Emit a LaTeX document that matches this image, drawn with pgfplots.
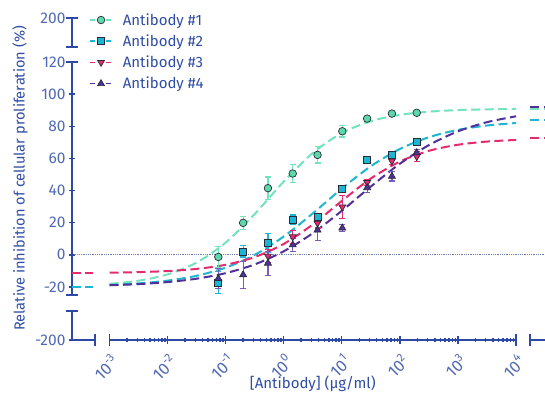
\documentclass[border=0pt]{standalone}
\usepackage{fontspec}
\setmainfont{Fira Sans}
\usepackage{pgfplots}
\pgfplotsset{compat=1.18}
\definecolor{axblue}{HTML}{2C49A6}
\definecolor{lblblue}{HTML}{5069B3}
\definecolor{ttlblue}{HTML}{2E4CA4}
\definecolor{cgreen}{HTML}{72E3BC}
\definecolor{cgreenf}{HTML}{5CD9A9}
\definecolor{ccyan}{HTML}{1DB6D2}
\definecolor{cred}{HTML}{E42B6D}
\definecolor{cpurple}{HTML}{52309A}
\definecolor{cpurplee}{HTML}{7A5CB8}
\definecolor{mkline}{HTML}{2A2A3A}
\definecolor{zeroline}{HTML}{6F7FAF}
\newcommand{\tp}[1]{10\raisebox{0.42em}{\fontsize{11.5}{11.5}\selectfont #1}}
\pgfplotsset{
  seg/.style={scale only axis, clip=false,
    axis line style={axblue, line width=2.2pt, -},
    tick style={axblue, line width=1.4pt},
    tick align=outside, major tick length=6pt,
    ticklabel style={font=\fontsize{15.5}{17}\selectfont, text=lblblue}},
  fitline/.style={line width=2pt, dash pattern=on 9pt off 4.5pt, forget plot},
  legimg/.style={legend image code/.code={
    \draw[#1, line width=1.6pt, dash pattern=on 5pt off 3pt] (0pt,0pt) -- (22pt,0pt);
    \draw[mark repeat=2, mark phase=2] plot coordinates {(0pt,0pt)(11pt,0pt)(22pt,0pt)};}},
}
\tikzset{axcap/.style={axblue, line width=1.8pt}}
\begin{document}
\begin{tikzpicture}[x=1pt,y=1pt]
\useasboundingbox (0,0) rectangle (545,394);

% ---- main y segment
\begin{axis}[seg, at={(72pt,99pt)}, anchor=south west, width=1pt, height=233pt,
  xmin=0, xmax=1, ymin=-25, ymax=120, axis x line=none, axis y line=left,
  y axis line style={-},
  ytick={-20,0,20,40,60,80,100,120}, yticklabels={-20,0,20,40,60,80,100,120},
  ylabel={Relative inhibition of cellular proliferation (\%)},
  every axis y label/.style={at={([xshift=-52pt]axis description cs:0,0.5)}, rotate=90, anchor=center,
    font=\fontsize{14.6}{16}\selectfont, text=ttlblue}]
\end{axis}
% ---- top y segment
\begin{axis}[seg, at={(72pt,347pt)}, anchor=south west, width=1pt, height=29pt,
  xmin=0, xmax=1, ymin=0, ymax=1, axis x line=none, axis y line=left, y axis line style={-},
  ytick={1}, yticklabels={200}]
\end{axis}
% ---- bottom y segment
\begin{axis}[seg, at={(72pt,54pt)}, anchor=south west, width=1pt, height=29pt,
  xmin=0, xmax=1, ymin=0, ymax=1, axis x line=none, axis y line=left, y axis line style={-},
  ytick={0}, yticklabels={-200}]
\end{axis}
% ---- main x axis
\begin{axis}[seg, at={(109.5pt,54pt)}, anchor=south west, width=406.5pt, height=1pt,
  xmode=log, xmin=1e-3, xmax=1e4, ymin=0, ymax=1, axis y line=none, axis x line=bottom,
  x axis line style={-}, major tick length=8pt, minor tick length=4pt,
  xtick={1e-3,1e-2,1e-1,1,10,100,1000,10000},
  xticklabels={\tp{-3},\tp{-2},\tp{-1},\tp{0},\tp{1},\tp{2},\tp{3},\tp{4}},
  minor xtick={0.002,0.003,0.004,0.005,0.006,0.007,0.008,0.009,
    0.02,0.03,0.04,0.05,0.06,0.07,0.08,0.09,
    0.2,0.3,0.4,0.5,0.6,0.7,0.8,0.9,
    2,3,4,5,6,7,8,9,
    20,30,40,50,60,70,80,90,
    200,300,400,500,600,700,800,900,
    2000,3000,4000,5000,6000,7000,8000,9000},
  xticklabel style={rotate=45, anchor=north east, font=\fontsize{16.5}{17}\selectfont, yshift=-5pt, xshift=-5pt, inner sep=1pt},
  xlabel={[Antibody] (µg/ml)},
  every axis x label/.style={at={([yshift=-44pt]axis description cs:0.5,0)}, anchor=center,
    font=\fontsize{15}{17}\selectfont, text=ttlblue}]
\end{axis}

% ---- axis caps and broken x segments
\draw[axcap] (66,332) -- (78,332);
\draw[axcap] (66,99) -- (78,99);
\draw[axcap] (66,376) -- (78,376);
\draw[axcap] (66,347) -- (78,347);
\draw[axcap] (66,83) -- (78,83);
\draw[axblue, line width=2.6pt] (72,54) -- (95,54);
\draw[axcap] (95,48) -- (95,60);
\draw[axcap] (109.5,48) -- (109.5,60);
\draw[axcap] (516,48) -- (516,60);
\draw[axblue, line width=2.6pt] (530,54) -- (548,54);
\draw[axcap] (530,48) -- (530,60);

% ---- data axis
\begin{axis}[scale only axis, at={(72pt,54pt)}, anchor=south west, width=473pt, height=322pt,
  xmode=log, xmin=2.26e-4, xmax=31550, ymin=-53, ymax=147.4, hide axis, clip=false,
  legend style={at={(axis description cs:0.036,1.021)}, anchor=north west, draw=none, fill=none,
    font=\fontsize{15}{17}\selectfont, text=ttlblue, row sep=4pt, inner sep=0pt,
    /tikz/every odd column/.append style={column sep=8pt}},
  legend cell align=left]

\addplot[zeroline, densely dotted, line width=0.8pt, forget plot] coordinates {(2.4e-4,0) (31550,0)};

% left broken segments (x -> 0)
\addplot[fitline, cgreen] coordinates {(2.26e-4,-20) (5.2e-4,-20)};
\addplot[fitline, cpurple] coordinates {(2.26e-4,-20) (5.2e-4,-20)};
\addplot[fitline, cred] coordinates {(2.26e-4,-11.4) (5.2e-4,-11.4)};
\addplot[fitline, ccyan] coordinates {(2.26e-4,-20) (5.2e-4,-20)};
% right broken segments (x -> infinity)
\addplot[fitline, cgreen] coordinates {(17420,91) (31550,91)};
\addplot[fitline, cpurple] coordinates {(17420,91.7) (31550,91.7)};
\addplot[fitline, ccyan] coordinates {(17420,83.8) (31550,83.8)};
\addplot[fitline, cred] coordinates {(17420,72.5) (31550,72.5)};

% fitted curves
\addplot[fitline, smooth, cgreen] coordinates {
(0.001,-18.10) (0.003162,-16.11) (0.01,-12.17) (0.03162,-4.82) (0.1,7.61) (0.3162,25.40)
(1,45.61) (3.162,63.39) (10,75.81) (31.62,83.17) (100,87.11) (316.2,89.10) (1000,90.08) (3162,90.56) (10000,90.79)};
\addplot[fitline, smooth, ccyan] coordinates {
(0.001,-18.78) (0.003162,-17.79) (0.01,-16.05) (0.03162,-13.03) (0.1,-7.99) (0.3162,-0.03)
(1,11.40) (3.162,25.79) (10,41.24) (31.62,55.16) (100,65.89) (316.2,73.20) (1000,77.77) (3162,80.48) (10000,82.04)};
\addplot[fitline, smooth, cred] coordinates {
(0.001,-11.08) (0.003162,-10.75) (0.01,-10.09) (0.03162,-8.76) (0.1,-6.18) (0.3162,-1.39)
(1,6.78) (3.162,18.89) (10,33.54) (31.62,47.49) (100,58.05) (316.2,64.74) (1000,68.51) (3162,70.50) (10000,71.51)};
\addplot[fitline, smooth, cpurple] coordinates {
(0.001,-18.95) (0.003162,-18.21) (0.01,-16.94) (0.03162,-14.84) (0.1,-11.39) (0.3162,-5.95)
(1,2.22) (3.162,13.45) (10,27.41) (31.62,42.51) (100,56.70) (316.2,68.31) (1000,76.84) (3162,82.56) (10000,86.21)};

% data points
\addplot[only marks, mark=*, mark size=3.8pt, mark options={fill=cgreenf, draw=mkline, line width=0.7pt, solid}, legimg=cgreen,
  error bars/.cd, y dir=both, y explicit, error bar style={cgreen, line width=1.2pt, solid},
  error mark options={cgreen, rotate=90, mark size=3pt, line width=1.2pt}]
coordinates {(0.0748,-1.3)+-(0,6.5) (0.2,19.9)+-(0,4) (0.535,41.5)+-(0,7) (1.429,50.6)+-(0,5.5)
 (3.82,62.2)+-(0,5) (10.2,76.9)+-(0,3.5) (27.3,84.8)+-(0,1.5) (72.9,87.9)+-(0,1) (195,88.4)+-(0,1)};
\addlegendentry{Antibody \#1}
\addplot[only marks, mark=square*, mark size=3.5pt, mark options={fill=ccyan, draw=mkline, line width=0.7pt, solid}, legimg=ccyan,
  error bars/.cd, y dir=both, y explicit, error bar style={ccyan, line width=1.2pt, solid},
  error mark options={ccyan, rotate=90, mark size=3pt, line width=1.2pt}]
coordinates {(0.0748,-17.3)+-(0,7) (0.2,2.1)+-(0,3.5) (0.535,7.5)+-(0,6) (1.429,21.8)+-(0,3)
 (3.82,23.4)+-(0,2.5) (10.2,40.9)+-(0,1.5) (27.3,59.2)+-(0,1.5) (72.9,62.4)+-(0,1.5) (195,70.6)+-(0,1)};
\addlegendentry{Antibody \#2}
\addplot[only marks, mark=triangle*, mark size=4pt, mark options={fill=cred, draw=mkline, line width=0.7pt, solid, rotate=180}, legimg=cred,
  error bars/.cd, y dir=both, y explicit, error bar style={cred, line width=1.2pt, solid},
  error mark options={cred, rotate=90, mark size=3pt, line width=1.2pt}]
coordinates {(0.535,-0.8)+-(0,4) (1.429,11.2)+-(0,4)
 (3.82,19.7)+-(0,3) (10.2,29.8)+-(0,7) (27.3,45)+-(0,2) (72.9,58.4)+-(0,2) (195,61.1)+-(0,3)};
\addlegendentry{Antibody \#3}
\addplot[only marks, mark=triangle*, mark size=4pt, mark options={fill=cpurple, draw=mkline, line width=0.7pt, solid}, legimg=cpurple,
  error bars/.cd, y dir=both, y explicit, error bar style={cpurplee, line width=1.2pt, solid},
  error mark options={cpurplee, rotate=90, mark size=3pt, line width=1.2pt}]
coordinates {(0.0748,-14.7)+-(0,6) (0.2,-12.4)+-(0,8.5) (0.535,-5.2)+-(0,7.5) (1.429,6.2)+-(0,4)
 (3.82,15.4)+-(0,6.5) (10.2,16.7)+-(0,2) (27.3,41.8)+-(0,3) (72.9,48.9)+-(0,3) (195,63.6)+-(0,2)};
\addlegendentry{Antibody \#4}
\end{axis}
\end{tikzpicture}
\end{document}
